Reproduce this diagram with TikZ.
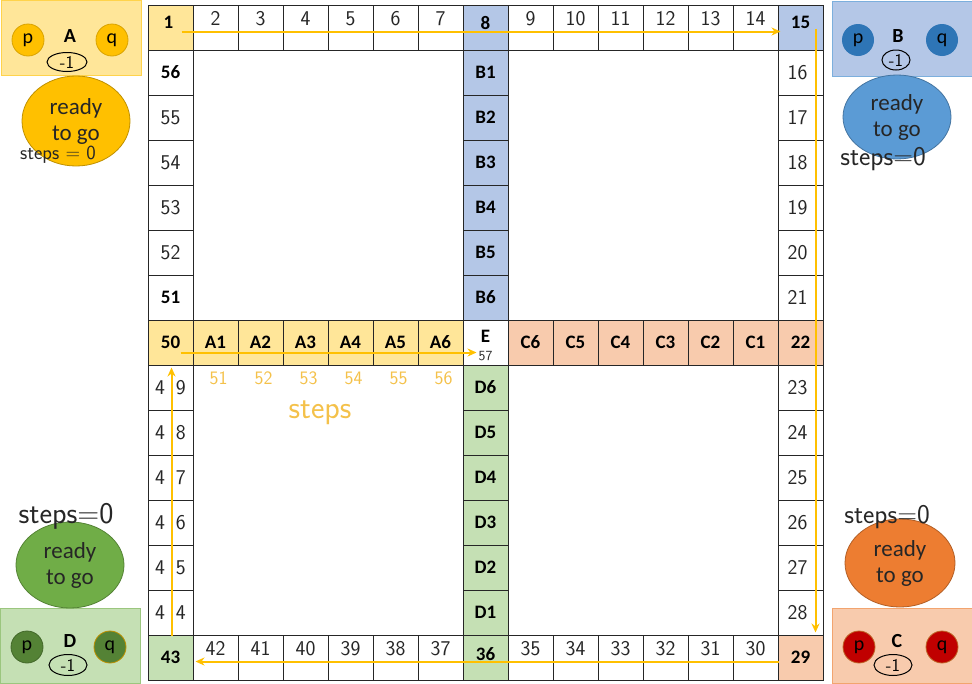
\documentclass[tikz,border=0pt]{standalone}
\usepackage{fontspec}
\setmainfont{Carlito}
\usetikzlibrary{arrows.meta,shapes.geometric}

\definecolor{yelcell}{HTML}{FFE699}
\definecolor{bluecell}{HTML}{B4C7E7}
\definecolor{orcell}{HTML}{F8CBAD}
\definecolor{grcell}{HTML}{C5E0B4}
\definecolor{gold}{HTML}{FFC000}
\definecolor{inkgold}{HTML}{F4C14A}
\definecolor{blueball}{HTML}{5B9BD5}
\definecolor{orball}{HTML}{ED7D31}
\definecolor{grball}{HTML}{70AD47}
\definecolor{bluetok}{HTML}{2E75B6}
\definecolor{redtok}{HTML}{C00000}
\definecolor{grtok}{HTML}{548235}

\begin{document}
\begin{tikzpicture}[x=1pt,y=-1pt,
  tag/.style={font=\bfseries\fontsize{19}{19}\selectfont},
  cell/.style={tag, draw=black!85, line width=0.9pt, minimum size=45pt, inner sep=0pt},
  hand/.style={font=\sffamily\fontsize{21}{21}\selectfont, text=black!85},
  gold hand/.style={font=\sffamily\fontsize{19}{19}\selectfont, text=inkgold},
  route/.style={draw=gold, line width=2pt, -{Stealth[length=9pt,width=8pt]}},
  corner/.style={minimum width=140pt, minimum height=75pt, line width=0.8pt},
  token/.style={circle, minimum size=32pt, inner sep=0pt, line width=0.8pt, font=\fontsize{20}{20}\selectfont},
  life/.style={ellipse, draw=black, line width=1pt, inner sep=0pt, minimum width=38pt, minimum height=21pt, font=\sffamily\fontsize{18}{18}\selectfont},
  ready/.style={ellipse, minimum width=108pt, minimum height=88pt, line width=0.8pt, align=center, text=black!85, font=\fontsize{23}{26}\selectfont},
  player/.style={font=\bfseries\fontsize{20}{20}\selectfont}]
  \useasboundingbox (0,0) rectangle (972,683);

  % top row 1..15
  \node[cell, fill=yelcell, label={[tag, xshift=-2pt, yshift=5pt]center:1}] (sq1) at (170.5,27.5) {};
  \foreach \n [evaluate=\n as \x using 45*\n+125.5] in {2,3,4,5,6,7,9,10,11,12,13,14}
    \node[cell, label={[hand, yshift=9pt]center:\n}] (sq\n) at (\x,27.5) {};
  \node[cell, fill=bluecell, label={[tag, yshift=4pt]center:8}] (sq8) at (485.5,27.5) {};
  \node[cell, fill=bluecell, label={[tag, yshift=5pt]center:15}] (sq15) at (800.5,27.5) {};

  % right column 16..29
  \foreach \n [evaluate=\n as \y using 45*\n-647.5] in {16,17,18,19,20,21,23,24,25,26,27,28}
    \node[cell, label={[hand, xshift=-3pt]center:\n}] (sq\n) at (800.5,\y) {};
  \node[cell, fill=orcell] (sq22) at (800.5,342.5) {22};
  \node[cell, fill=orcell] (sq29) at (800.5,657.5) {29};

  % bottom row 30..43
  \foreach \n [evaluate=\n as \x using 2105.5-45*\n] in {30,31,32,33,34,35,37,38,39,40,41,42}
    \node[cell, label={[hand, yshift=9pt]center:\n}] (sq\n) at (\x,657.5) {};
  \node[cell, fill=grcell, label={[tag, yshift=3pt]center:36}] (sq36) at (485.5,657.5) {};
  \node[cell, fill=grcell] (sq43) at (170.5,657.5) {43};

  % left column 44..56
  \foreach \n [evaluate=\n as \y using 2592.5-45*\n, evaluate=\n as \m using int(\n-40)] in {44,...,49}
    \node[cell, label={[hand]center:4\hspace{11pt}\m}] (sq\n) at (170.5,\y) {};
  \node[cell, fill=yelcell] (sq50) at (170.5,342.5) {50};
  \node[cell] (sq51) at (170.5,297.5) {51};
  \foreach \n [evaluate=\n as \y using 2592.5-45*\n] in {52,53,54,55}
    \node[cell, label={[hand]center:\n}] (sq\n) at (170.5,\y) {};
  \node[cell] (sq56) at (170.5,72.5) {56};

  % home stretches
  \foreach \k [evaluate=\k as \x using 45*\k+170.5] in {1,...,6}
    \node[cell, fill=yelcell] (ha\k) at (\x,342.5) {A\k};
  \foreach \k [evaluate=\k as \y using 45*\k+27.5] in {1,...,6}
    \node[cell, fill=bluecell] (hb\k) at (485.5,\y) {B\k};
  \foreach \k [evaluate=\k as \x using 800.5-45*\k] in {1,...,6}
    \node[cell, fill=orcell] (hc\k) at (\x,342.5) {C\k};
  \foreach \k [evaluate=\k as \y using 657.5-45*\k] in {1,...,6}
    \node[cell, fill=grcell] (hd\k) at (485.5,\y) {D\k};
  \node[cell, label={[tag, yshift=6pt]center:E}, label={[hand, font=\sffamily\fontsize{14}{14}\selectfont, yshift=-14pt]center:57}] (home) at (485.5,342.5) {};

  % step count under A1..A6
  \foreach \k [evaluate=\k as \s using int(\k+50)] in {1,...,6}
    \node[gold hand] (st\k) at ([xshift=3pt, yshift=-13pt]ha\k.south) {\s};
  \node[gold hand, font=\sffamily\fontsize{32}{32}\selectfont] (stepword) at (320,413) {steps};

  % the way round
  \draw[route] ([shift={(11,4)}]sq1.center) -- ([shift={(-20,4)}]sq15.center);
  \draw[route] ([shift={(15,1)}]sq15.center) -- ([shift={(15,-25)}]sq29.center);
  \draw[route] ([shift={(-22,4)}]sq29.center) -- ([shift={(25,4)}]sq43.center);
  \draw[route] ([shift={(1,-22)}]sq43.center) -- ([shift={(1,25)}]sq50.center);
  \draw[route] ([shift={(10,10)}]sq50.center) -- ([shift={(-9,10)}]home.center);

  % player A
  \node[corner, fill=yelcell, draw=gold!70] (baseA) at (71,37.5) {};
  \node[token, fill=gold, draw=gold!85!black] (pA) at (28,40) {p};
  \node[token, fill=gold, draw=gold!85!black] (qA) at (112,40) {q};
  \node[player] (nameA) at (70,36) {A};
  \node[life, minimum width=40pt, minimum height=19pt] (lifeA) at (67,62) {-1};
  \node[ready, fill=gold, draw=gold!75!black, minimum height=90pt] (goA) at (76,121) {ready\\to go};
  \node[hand, font=\sffamily\fontsize{20}{20}\selectfont] (stepsA) at (58,155) {steps = 0};

  % player B
  \node[corner, fill=bluecell, draw=blueball!80] (baseB) at (902,38.5) {};
  \node[token, fill=bluetok] (pB) at (858,40) {p};
  \node[token, fill=bluetok] (qB) at (942,40) {q};
  \node[player] (nameB) at (898,36) {B};
  \node[life, minimum width=28pt, minimum height=20pt] (lifeB) at (896,60) {-1};
  \node[ready, fill=blueball, draw=blueball!75!black, minimum height=84pt] (goB) at (897,117) {ready\\to go};
  \node[hand, font=\sffamily\fontsize{27}{27}\selectfont] (stepsB) at (883,159) {steps=0};

  % player C
  \node[corner, fill=orcell, draw=orball!70] (baseC) at (902,645.5) {};
  \node[token, fill=redtok, draw=orball!80!black] (pC) at (859,647) {p};
  \node[token, fill=redtok, draw=orball!80!black] (qC) at (942,647) {q};
  \node[player] (nameC) at (897,641) {C};
  \node[life] (lifeC) at (893,665) {-1};
  \node[ready, fill=orball, draw=orball!75!black, minimum width=110pt] (goC) at (900,563) {ready\\to go};
  \node[hand, font=\sffamily\fontsize{27}{27}\selectfont] (stepsC) at (887,517) {steps=0};

  % player D
  \node[corner, fill=grcell, draw=grball!70] (baseD) at (70,645.5) {};
  \node[token, fill=grtok, draw=grtok!80!black] (pD) at (27,647) {p};
  \node[token, fill=grtok, draw=gold!75!black] (qD) at (110,647) {q};
  \node[player] (nameD) at (70,641) {D};
  \node[life] (lifeD) at (68,665) {-1};
  \node[ready, fill=grball, draw=grball!75!black, minimum height=86pt] (goD) at (70,565) {ready\\to go};
  \node[hand, font=\sffamily\fontsize{30}{30}\selectfont] (stepsD) at (66,516) {steps=0};
\end{tikzpicture}
\end{document}
